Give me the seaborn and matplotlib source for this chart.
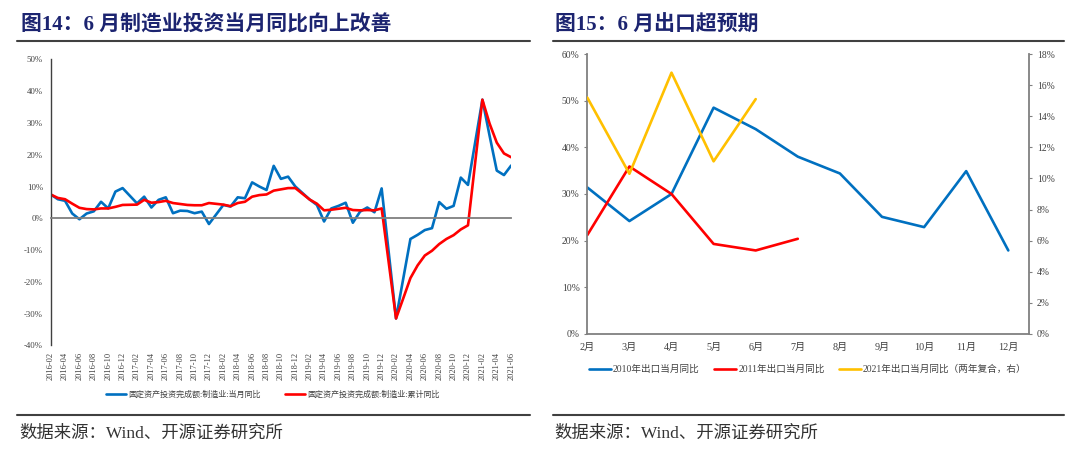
import pandas as pd
import matplotlib
matplotlib.use("Agg")
import matplotlib.pyplot as plt
from matplotlib.lines import Line2D
from matplotlib.ticker import FuncFormatter
import seaborn as sns

sns.set_style("white")
plt.rcParams['font.family'] = ['Liberation Serif', 'Noto Sans CJK SC', 'DejaVu Sans']
plt.rcParams['axes.unicode_minus'] = False

# ---- left chart data: 2016-02 .. 2021-06, January has no release (None)
months = [f"{y}-{m:02d}" for y in range(2016, 2022) for m in range(1, 13)]
months = months[months.index("2016-02"):months.index("2021-06") + 1]

mfg_month = [
    7.5, 6.0, 5.5, 1.5, -0.3, 1.5, 2.2, 5.2, 3.1, 8.4, 9.5,            # 2016
    None, 4.7, 6.8, 3.4, 5.8, 6.6, 1.6, 2.4, 2.3, 1.6, 2.1, -1.8,      # 2017
    None, 4.2, 3.7, 6.6, 6.3, 11.3, 10.0, 8.9, 16.5, 12.4, 13.1, 10.0, # 2018
    None, 5.9, 4.2, -1.0, 3.1, 3.9, 4.9, -1.4, 2.1, 3.4, 1.9, 9.4,     # 2019
    None, -31.5, -19.0, -6.5, -5.2, -3.7, -3.1, 5.1, 3.0, 3.9, 12.8, 10.5,  # 2020
    None, 37.3, 26.0, 15.0, 13.6, 16.6,                                # 2021
]
mfg_cum = [
    7.5, 6.4, 6.0, 4.6, 3.3, 2.9, 2.8, 3.1, 3.1, 3.6, 4.2,
    None, 4.3, 5.8, 4.9, 5.1, 5.5, 4.8, 4.5, 4.2, 4.1, 4.1, 4.8,
    None, 4.3, 3.8, 4.8, 5.2, 6.8, 7.3, 7.5, 8.7, 9.1, 9.5, 9.5,
    None, 5.9, 4.6, 2.5, 2.7, 3.0, 3.3, 2.6, 2.5, 2.6, 2.5, 3.1,
    None, -31.5, -25.2, -18.8, -14.8, -11.7, -10.2, -8.1, -6.5, -5.3, -3.5, -2.2,
    None, 37.3, 29.8, 23.8, 20.4, 19.2,
]
label_month = "固定资产投资完成额:制造业:当月同比"
label_cum = "固定资产投资完成额:制造业:累计同比"

# ---- right chart data
months_cn = ["2月", "3月", "4月", "5月", "6月", "7月", "8月", "9月", "10月", "11月", "12月"]
exp_2010 = [31.4, 24.2, 30.0, 48.5, 43.9, 38.0, 34.4, 25.1, 22.9, 34.9, 17.9]
exp_2011 = [21.2, 35.9, 30.0, 19.3, 17.9, 20.4]
exp_2021 = [15.2, 10.3, 16.8, 11.1, 15.1]
labels_right = ["2010年出口当月同比", "2011年出口当月同比", "2021年出口当月同比（两年复合，右）"]

BLUE, RED, YELLOW = "#0070C0", "#FF0000", "#FFC000"
TITLE_C = "#1C2470"

fig = plt.figure(figsize=(10.8, 4.62), dpi=100)

# ================= left chart =================
ax1 = fig.add_axes([0.0469, 0.2522, 0.4264, 0.6194])
df_left = pd.DataFrame({"pos": range(len(months)), "month": months,
                        "当月": mfg_month, "累计": mfg_cum})
d1 = df_left.dropna(subset=["当月"])
d2 = df_left.dropna(subset=["累计"])
sns.lineplot(data=d1, x="pos", y="当月", ax=ax1, color=BLUE, linewidth=1.9, label=label_month)
sns.lineplot(data=d2, x="pos", y="累计", ax=ax1, color=RED, linewidth=1.9, label=label_cum)
if ax1.get_legend():
    ax1.get_legend().remove()

ax1.set_xlim(0, len(months) - 1)
ax1.set_ylim(-40, 50)
ax1.set_yticks(range(-40, 51, 10))
ax1.yaxis.set_major_formatter(FuncFormatter(lambda v, p: f"{v:.0f}%"))
ax1.set_xlabel("")
ax1.set_ylabel("")
for s in ["top", "right"]:
    ax1.spines[s].set_visible(False)
ax1.spines["left"].set_color("#404040")
ax1.spines["left"].set_linewidth(1.0)
ax1.spines["bottom"].set_position(("data", 0))
ax1.spines["bottom"].set_color("#7f7f7f")
ax1.spines["bottom"].set_linewidth(1.3)
tick_pos = list(range(0, len(months), 2))
ax1.set_xticks(tick_pos)
ax1.tick_params(axis="x", labelbottom=False, direction="in", length=2.5, width=0.8, color="#404040")
ax1.tick_params(axis="y", length=2.5, width=0.8, color="#404040", labelsize=6.3,
                labelcolor="#404040", pad=3)
sec = ax1.secondary_xaxis("bottom")
sec.set_xticks(tick_pos, [months[i] for i in tick_pos], rotation=90)
sec.tick_params(length=0, pad=4.5, labelsize=6, labelcolor="#404040")
sec.spines["bottom"].set_visible(False)

h, l = ax1.get_legend_handles_labels()
fig.legend(h, l, loc="center", bbox_to_anchor=(0.2527, 0.146), ncol=2, frameon=False,
           fontsize=5.8, handlelength=2.5, handletextpad=0.25, columnspacing=3.0,
           labelcolor="#404040")

# ================= right chart =================
ax2 = fig.add_axes([0.5438, 0.2771, 0.4093, 0.606])
df_right = pd.DataFrame({"pos": range(len(months_cn)), "m": months_cn,
                         "y2010": exp_2010,
                         "y2011": exp_2011 + [None] * (len(months_cn) - len(exp_2011)),
                         "y2021": exp_2021 + [None] * (len(months_cn) - len(exp_2021))})
sns.lineplot(data=df_right, x="pos", y="y2010", ax=ax2, color=BLUE, linewidth=1.9, label=labels_right[0])
sns.lineplot(data=df_right.dropna(subset=["y2011"]), x="pos", y="y2011", ax=ax2, color=RED,
             linewidth=1.9, label=labels_right[1])
ax3 = ax2.twinx()
sns.lineplot(data=df_right.dropna(subset=["y2021"]), x="pos", y="y2021", ax=ax3, color=YELLOW,
             linewidth=1.9, label=labels_right[2])
for a in (ax2, ax3):
    if a.get_legend():
        a.get_legend().remove()
    a.set_xlabel("")
    a.set_ylabel("")

ax2.set_xlim(0, len(months_cn) - 0.5)
ax2.set_ylim(0, 60)
ax3.set_ylim(0, 18)
ax2.set_yticks(range(0, 61, 10))
ax3.set_yticks(range(0, 19, 2))
pct = FuncFormatter(lambda v, p: f"{v:.0f}%")
ax2.yaxis.set_major_formatter(pct)
ax3.yaxis.set_major_formatter(pct)
ax2.set_xticks(range(len(months_cn)), months_cn)

ax2.spines["top"].set_visible(False)
ax2.spines["right"].set_visible(False)
for s in ["top", "left", "bottom"]:
    ax3.spines[s].set_visible(False)
for s in ["left", "bottom"]:
    ax2.spines[s].set_color("#808080")
    ax2.spines[s].set_linewidth(1.3)
ax3.spines["right"].set_color("#808080")
ax3.spines["right"].set_linewidth(1.3)
ax2.tick_params(axis="x", length=2.5, width=0.8, color="#808080", labelsize=7.3,
                labelcolor="#404040", pad=4)
ax2.tick_params(axis="y", length=2.5, width=0.8, color="#808080", labelsize=6.9,
                labelcolor="#404040", pad=3)
ax3.tick_params(axis="y", length=2.5, width=0.8, color="#808080", labelsize=6.9,
                labelcolor="#404040", pad=3)

h2, l2 = ax2.get_legend_handles_labels()
h3, l3 = ax3.get_legend_handles_labels()
fig.legend(h2 + h3, l2 + l3, loc="center", bbox_to_anchor=(0.748, 0.2), ncol=3, frameon=False,
           fontsize=6.9, handlelength=2.3, handletextpad=0.2, columnspacing=1.5,
           labelcolor="#404040")

# ================= titles, rules, sources =================
fig.text(0.019, 0.944, "图14：6 月制造业投资当月同比向上改善", fontsize=15, fontweight="bold",
         color=TITLE_C, va="center", ha="left")
fig.text(0.514, 0.944, "图15：6 月出口超预期", fontsize=15, fontweight="bold",
         color=TITLE_C, va="center", ha="left")
for x0, x1 in [(0.0157, 0.4907), (0.512, 0.985)]:
    fig.add_artist(Line2D([x0, x1], [0.9113, 0.9113], color="#404040", linewidth=1.5))
    fig.add_artist(Line2D([x0, x1], [0.1017, 0.1017], color="#404040", linewidth=1.5))
fig.text(0.0175, 0.062, "数据来源：Wind、开源证券研究所", fontsize=12.5, color="#333333",
         va="center", ha="left")
fig.text(0.513, 0.062, "数据来源：Wind、开源证券研究所", fontsize=12.5, color="#333333",
         va="center", ha="left")

fig.savefig("out.png", dpi=100)
